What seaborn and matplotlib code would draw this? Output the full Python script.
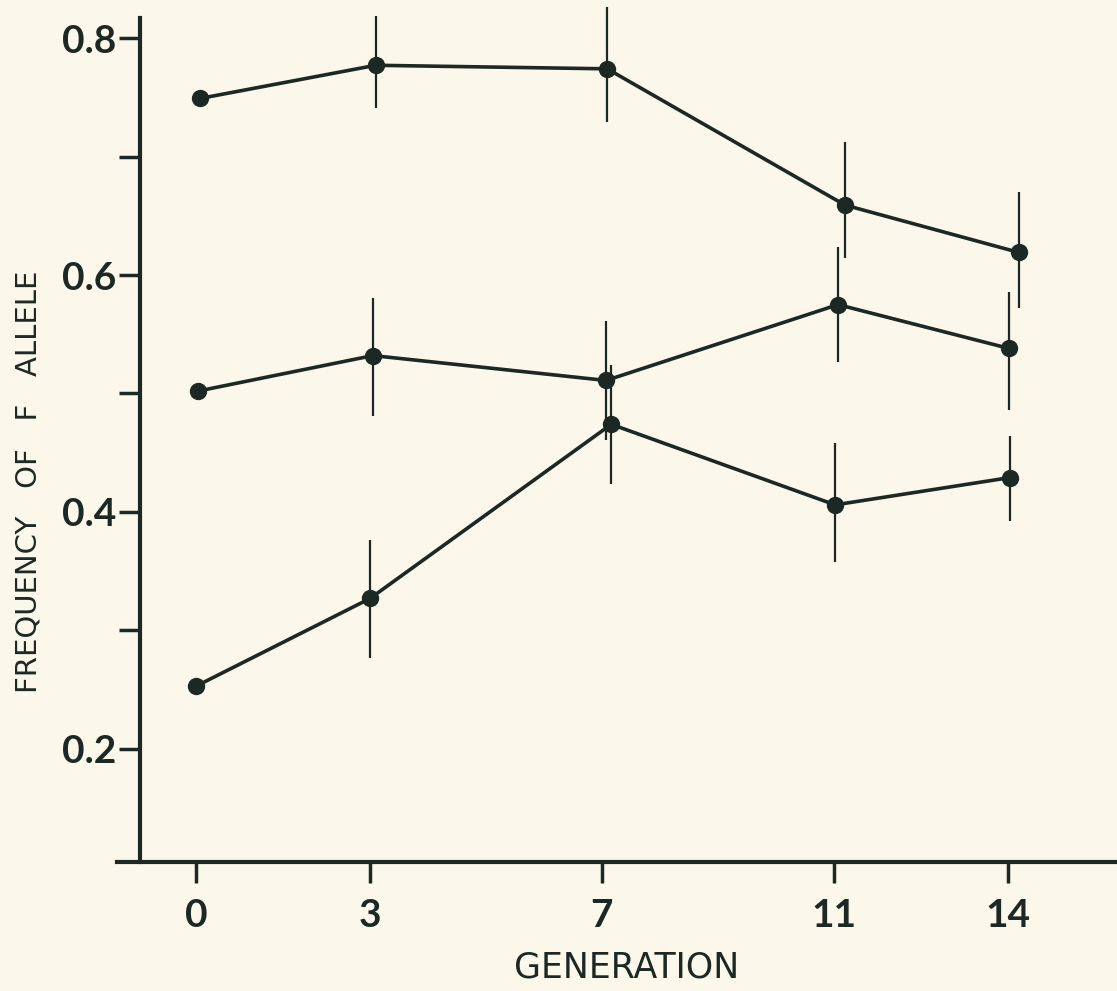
import numpy as np
import pandas as pd
import seaborn as sns
import matplotlib.pyplot as plt
from matplotlib.ticker import MultipleLocator

# values
gen_ticks = [0, 3, 7, 11, 14]

# x positions as drawn (the hand-drawn points sit slightly off the ticks)
x_top = [0.07, 3.1, 7.09, 11.19, 14.19]
x_mid = [0.03, 3.05, 7.07, 11.07, 14.02]
x_low = [0.0, 3.0, 7.16, 11.02, 14.03]

y_top = [0.749, 0.777, 0.774, 0.659, 0.619]
y_mid = [0.502, 0.532, 0.511, 0.575, 0.538]
y_low = [0.253, 0.327, 0.474, 0.406, 0.429]

# error bar ends (nan = no bar drawn)
hi_top = [np.nan, 0.819, 0.826, 0.712, 0.670]
lo_top = [np.nan, 0.741, 0.729, 0.614, 0.572]
hi_mid = [np.nan, 0.581, 0.561, 0.624, 0.586]
lo_mid = [np.nan, 0.481, 0.461, 0.527, 0.486]
hi_low = [np.nan, 0.376, 0.524, 0.458, 0.464]
lo_low = [np.nan, 0.277, 0.424, 0.358, 0.392]

df = pd.DataFrame({
    'generation': x_top + x_mid + x_low,
    'freq': y_top + y_mid + y_low,
    'hi': hi_top + hi_mid + hi_low,
    'lo': lo_top + lo_mid + lo_low,
    'line': ['top'] * 5 + ['mid'] * 5 + ['low'] * 5,
})

ink = '#1c2823'
paper = '#fbf7ea'

sns.set_theme(style='ticks')
plt.rcParams['font.family'] = ['Lato', 'DejaVu Sans']

fig = plt.figure(figsize=(11.17, 9.91), dpi=100, facecolor=paper)
ax = fig.add_axes([140 / 1117, 1 - 862 / 991, 1 - 140 / 1117, (862 - 18) / 991])
ax.set_facecolor(paper)

sns.lineplot(data=df, x='generation', y='freq', units='line', estimator=None,
             sort=False, color=ink, lw=2.6, marker='o', markersize=12.5,
             markeredgewidth=0, ax=ax, clip_on=False, zorder=3)

# vertical error bars
eb = df.dropna()
ax.errorbar(eb['generation'], eb['freq'],
            yerr=[eb['freq'] - eb['lo'], eb['hi'] - eb['freq']],
            fmt='none', ecolor=ink, elinewidth=1.6, capsize=0, clip_on=False, zorder=2)

ax.set_xlim(-0.966, 15.88)
ax.set_ylim(0.1046, 0.8169)

ax.set_xticks(gen_ticks)
ax.set_xticklabels([str(g) for g in gen_ticks])
ax.set_yticks([0.2, 0.4, 0.6, 0.8])
ax.set_yticklabels(['0.2', '0.4', '0.6', '0.8'])
ax.yaxis.set_minor_locator(MultipleLocator(0.1))

ax.tick_params(axis='both', which='both', colors=ink, width=2.5, length=15,
               labelsize=28, pad=2)
ax.tick_params(axis='x', pad=11)
for lab in ax.get_xticklabels() + ax.get_yticklabels():
    lab.set_fontweight('bold')

sns.despine(ax=ax)
for s in ['left', 'bottom']:
    ax.spines[s].set_color(ink)
    ax.spines[s].set_linewidth(3)
ax.spines['bottom'].set_bounds(-1.36, 15.88)

ax.set_xlabel('GENERATION', fontsize=25, color=ink, family=['DejaVu Sans'])
ax.set_ylabel('FREQUENCY   OF   F   ALLELE', fontsize=21, color=ink,
              family=['DejaVu Sans'])
ax.xaxis.set_label_coords(0.498, -0.105)
ax.yaxis.set_label_coords(-0.100, 0.451)

fig.savefig('out.png', dpi=100, facecolor=paper)
